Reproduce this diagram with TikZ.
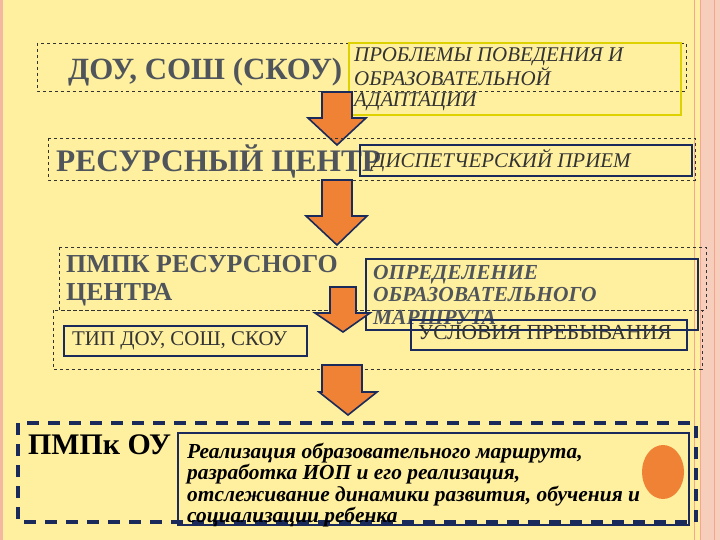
\documentclass[tikz,border=0pt]{standalone}
\usepackage{fontspec}
\setmainfont{Liberation Serif}
\begin{document}
\begin{tikzpicture}[x=1bp,y=-1bp,
  dbox/.style={draw=black!80,dashed,line width=0.6bp},
  navybox/.style={draw=navy,line width=1.8bp},
  big/.style={anchor=west,inner sep=0,text=txtgray,font=\fontsize{31}{33}\selectfont\bfseries},
  ital/.style={anchor=west,inner sep=0,text=black!80,font=\fontsize{20}{22}\selectfont\itshape},
  arr/.style={fill=arrorange,draw=navy,line width=1.6bp,line join=miter}]
\definecolor{bg}{HTML}{FFF0A0}
\definecolor{navy}{HTML}{1A2A5A}
\definecolor{txtgray}{HTML}{50555C}
\definecolor{arrorange}{HTML}{F08236}
\definecolor{pinkc}{HTML}{F4B8A0}
\useasboundingbox (0,0) rectangle (720,540);
\fill[bg] (0,0) rectangle (720,540);
\fill[pinkc] (0,0) rectangle (3,540);
\fill[pinkc!70] (700,0) rectangle (720,540);
\draw[pinkc!90!red,line width=1bp] (694,0) -- (694,540) (700,0) -- (700,540) (714,0) -- (714,540);
% box 1
\draw[dbox] (37,43) rectangle (686,91);
\node[big] (t1) at (68,72) {ДОУ, СОШ (СКОУ)};
\draw[draw=yellow!70!olive,line width=1.6bp] (349,43) rectangle (681,115);
\node[ital,align=left,font=\fontsize{21}{21}\selectfont\itshape] (p1) at (354,79) {ПРОБЛЕМЫ ПОВЕДЕНИЯ И\\ОБРАЗОВАТЕЛЬНОЙ\\АДАПТАЦИИ};
% arrow 1
\draw[arr] (322,92) -- (352,92) -- (352,118) -- (366,118) -- (337,145) -- (308,118) -- (322,118) -- cycle;
% box 2
\draw[dbox] (48,138) rectangle (695,180);
\node[big,font=\fontsize{31.5}{33}\selectfont\bfseries] (t2) at (56,161) {РЕСУРСНЫЙ ЦЕНТР};
\draw[navybox] (360,145) rectangle (692,176);
\node[ital,font=\fontsize{21}{22}\selectfont\itshape] (p2) at (372,160) {ДИСПЕТЧЕРСКИЙ ПРИЕМ};
% arrow 2
\draw[arr] (322,180) -- (352,180) -- (352,216) -- (367,216) -- (337,245) -- (306,216) -- (322,216) -- cycle;
% box 3
\draw[dbox] (59,247) rectangle (706,310);
\draw[dbox] (53,310) rectangle (702,369);
\node[big,align=left,font=\fontsize{26}{28}\selectfont\bfseries] (t3) at (66,281) {ПМПК РЕСУРСНОГО\\ЦЕНТРА};
\draw[navybox] (366,259) rectangle (698,330);
\node[ital,align=left,font=\fontsize{21.5}{23}\selectfont\itshape\bfseries,text=txtgray] (p3) at (373,295) {ОПРЕДЕЛЕНИЕ\\ОБРАЗОВАТЕЛЬНОГО\\МАРШРУТА};
\draw[arr] (330,287) -- (356,287) -- (356,313) -- (370,313) -- (343,332) -- (315,313) -- (330,313) -- cycle;
\draw[navybox] (64,326) rectangle (307,356);
\node[ital,font=\fontsize{21}{22}\selectfont] (p4) at (72,341) {ТИП ДОУ, СОШ, СКОУ};
\draw[navybox] (411,320) rectangle (687,350);
\node[ital,font=\fontsize{21.5}{22}\selectfont] (p5) at (418,333) {УСЛОВИЯ ПРЕБЫВАНИЯ};
% arrow 4
\draw[arr] (322,365) -- (362,365) -- (362,392) -- (377,392) -- (348,415) -- (319,392) -- (322,392) -- cycle;
% bottom
\draw[navybox] (178,433) rectangle (689,525);
\draw[navy,line width=4bp,dash pattern=on 12bp off 9bp] (18,423) rectangle (696,522);
\node[anchor=west,inner sep=0,font=\fontsize{30}{26}\selectfont\bfseries] (t5) at (28,445) {ПМПк ОУ};
\node[ital,align=left,text=black,font=\fontsize{21.5}{21.5}\selectfont\itshape\bfseries] (p6) at (187,485) {Реализация образовательного маршрута,\\разработка ИОП и его реализация,\\отслеживание динамики развития, обучения и\\социализации ребенка};
\fill[arrorange] (663,472) ellipse (21 and 27);
\end{tikzpicture}
\end{document}
